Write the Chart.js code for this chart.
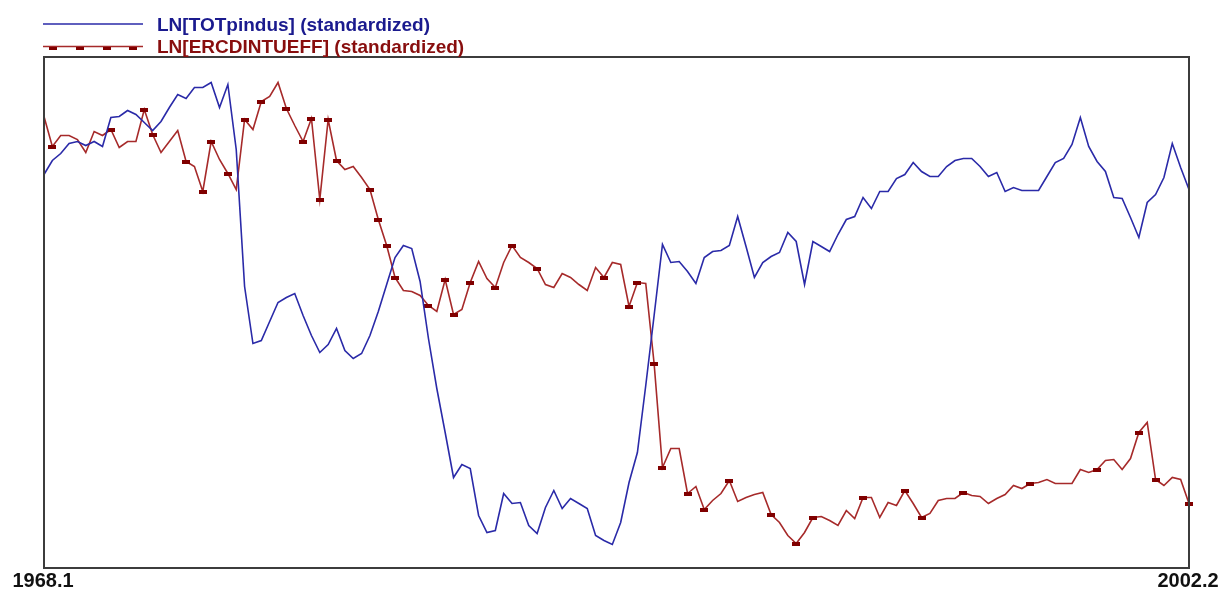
<!DOCTYPE html>
<html>
<head>
<meta charset="utf-8">
<script src="https://cdn.jsdelivr.net/npm/chart.js@4/dist/chart.umd.min.js"></script>
<style>
  html, body { margin: 0; padding: 0; background: #ffffff; }
  #wrap { width: 1225px; height: 591px; position: relative; }
</style>
</head>
<body>
<div id="wrap"><canvas id="c" width="1225" height="591"></canvas></div>
<script>
// Quarterly sample 1968.1 - 2002.2, both series standardized
const startYear = 1968;
const startQuarter = 1;

const seriesNames = ['LN[TOTpindus] (standardized)', 'LN[ERCDINTUEFF] (standardized)'];

const totPindus = [
  1.38, 1.52, 1.59, 1.69, 1.71, 1.67, 1.71, 1.66, 1.95, 1.96,
  2.02, 1.98, 1.90, 1.82, 1.91, 2.05, 2.18, 2.14, 2.25, 2.25,
  2.30, 2.05, 2.28, 1.63, 0.26, -0.31, -0.28, -0.09, 0.10, 0.15,
  0.19, -0.03, -0.23, -0.40, -0.32, -0.16, -0.38, -0.46, -0.41, -0.23,
  0.01, 0.28, 0.55, 0.67, 0.64, 0.31, -0.26, -0.76, -1.20, -1.65,
  -1.52, -1.56, -2.03, -2.20, -2.18, -1.81, -1.91, -1.90, -2.13, -2.21,
  -1.95, -1.78, -1.96, -1.86, -1.91, -1.96, -2.23, -2.28, -2.32, -2.10,
  -1.70, -1.40, -0.73, -0.03, 0.68, 0.50, 0.51, 0.41, 0.29, 0.55,
  0.61, 0.62, 0.67, 0.96, 0.66, 0.35, 0.50, 0.56, 0.60, 0.80,
  0.71, 0.28, 0.71, 0.66, 0.61, 0.78, 0.93, 0.96, 1.15, 1.04,
  1.21, 1.21, 1.34, 1.38, 1.50, 1.41, 1.36, 1.36, 1.46, 1.52,
  1.54, 1.54, 1.46, 1.36, 1.40, 1.21, 1.25, 1.22, 1.22, 1.22,
  1.36, 1.50, 1.54, 1.68, 1.95, 1.66, 1.51, 1.41, 1.15, 1.14,
  0.95, 0.75, 1.10, 1.18, 1.35, 1.69, 1.45, 1.23
];

const ercdIntuEff = [
  1.96, 1.66, 1.77, 1.77, 1.73, 1.60, 1.81, 1.77, 1.83, 1.65,
  1.71, 1.71, 2.03, 1.78, 1.60, 1.71, 1.82, 1.51, 1.46, 1.21,
  1.71, 1.53, 1.39, 1.23, 1.93, 1.83, 2.11, 2.16, 2.30, 2.04,
  1.87, 1.71, 1.94, 1.13, 1.93, 1.52, 1.43, 1.46, 1.35, 1.23,
  0.93, 0.67, 0.35, 0.22, 0.21, 0.17, 0.07, 0.01, 0.33, -0.02,
  0.03, 0.30, 0.51, 0.34, 0.25, 0.50, 0.67, 0.55, 0.50, 0.44,
  0.28, 0.25, 0.39, 0.35, 0.28, 0.22, 0.45, 0.35, 0.50, 0.48,
  0.06, 0.30, 0.29, -0.51, -1.55, -1.36, -1.36, -1.81, -1.74, -1.97,
  -1.88, -1.81, -1.68, -1.89, -1.85, -1.82, -1.80, -2.02, -2.10, -2.23,
  -2.31, -2.20, -2.05, -2.04, -2.08, -2.13, -1.98, -2.06, -1.85, -1.85,
  -2.05, -1.90, -1.93, -1.78, -1.91, -2.05, -2.01, -1.88, -1.86, -1.86,
  -1.80, -1.83, -1.84, -1.91, -1.86, -1.82, -1.73, -1.76, -1.71, -1.70,
  -1.67, -1.71, -1.71, -1.71, -1.57, -1.60, -1.57, -1.48, -1.47, -1.57,
  -1.46, -1.20, -1.10, -1.67, -1.73, -1.65, -1.67, -1.91
];

// observations that carry a symbol on the second series
const markedObs = [1, 8, 12, 13, 17, 19, 20, 22, 24, 26, 29, 31, 32, 33, 34, 35, 39, 40,
  41, 42, 46, 48, 49, 51, 54, 56, 59, 67, 70, 71, 73, 74, 77, 79, 82, 87, 90, 92, 98,
  103, 105, 110, 118, 126, 131, 133, 137];

// the axis shows only the first and last period
const tickLabels = ['1968.1', '2002.2'];

// period labels "yyyy.q"
const periods = totPindus.map((_, i) => {
  const q = startQuarter - 1 + i;
  return (startYear + Math.floor(q / 4)) + '.' + (q % 4 + 1);
});

const BLUE = '#2a2aa8';
const BLUE_TEXT = '#1a1a8e';
const RED = '#a62a2a';
const RED_MARK = '#800000';
const RED_TEXT = '#880e0e';
const FONT = 'bold 19px "Liberation Sans", Arial, sans-serif';
const TICK_FONT = 'bold 20px "Liberation Sans", Arial, sans-serif';

// small flat rectangle used as the point symbol
function makeMarker(w, h, color) {
  const c = document.createElement('canvas');
  c.width = w; c.height = h;
  const g = c.getContext('2d');
  g.fillStyle = color;
  g.fillRect(0, 0, w, h);
  return c;
}
const marker = makeMarker(8, 4, RED_MARK);
const markSet = new Set(markedObs);

const framePlugin = {
  id: 'frameAndLabels',
  afterDraw(chart) {
    const { ctx, chartArea: a } = chart;
    const xs = chart.scales.x;
    ctx.save();
    // plot frame
    ctx.strokeStyle = '#3c3c3c';
    ctx.lineWidth = 2;
    ctx.strokeRect(a.left, a.top, a.right - a.left, a.bottom - a.top);

    // first / last period labels
    ctx.fillStyle = '#111111';
    ctx.font = TICK_FONT;
    ctx.textAlign = 'center';
    ctx.textBaseline = 'alphabetic';
    tickLabels.forEach(lbl => {
      const idx = periods.indexOf(lbl);
      const x = xs.getPixelForValue(idx);
      ctx.fillText(lbl, x - 1, a.bottom + 19);
    });

    // key
    const x0 = a.left - 1, x1 = a.left + 99;
    ctx.textAlign = 'left';
    ctx.font = FONT;

    ctx.strokeStyle = BLUE;
    ctx.lineWidth = 1.6;
    ctx.beginPath();
    ctx.moveTo(x0, 24); ctx.lineTo(x1, 24);
    ctx.stroke();
    ctx.fillStyle = BLUE_TEXT;
    ctx.fillText(seriesNames[0], a.left + 113, 31);

    ctx.strokeStyle = RED;
    ctx.beginPath();
    ctx.moveTo(x0, 46.5); ctx.lineTo(x1, 46.5);
    ctx.stroke();
    ctx.fillStyle = RED_MARK;
    [9, 36, 63, 89].forEach(dx => ctx.fillRect(a.left + dx - 4, 47, 8, 3));
    ctx.fillStyle = RED_TEXT;
    ctx.fillText(seriesNames[1], a.left + 113, 53);
    ctx.restore();
  }
};

new Chart(document.getElementById('c'), {
  type: 'line',
  data: {
    labels: periods,
    datasets: [
      {
        label: seriesNames[0],
        data: totPindus,
        borderColor: BLUE,
        borderWidth: 1.6,
        pointRadius: 0,
        tension: 0,
        clip: 4
      },
      {
        label: seriesNames[1],
        data: ercdIntuEff,
        borderColor: RED,
        borderWidth: 1.6,
        pointStyle: marker,
        pointRadius: ctx => markSet.has(ctx.dataIndex) ? 4 : 0,
        tension: 0,
        clip: 6
      }
    ]
  },
  options: {
    responsive: false,
    animation: false,
    events: [],
    layout: { padding: { left: 44, right: 36, top: 57, bottom: 23 } },
    plugins: { legend: { display: false }, tooltip: { enabled: false } },
    scales: {
      x: { type: 'category', display: false, offset: false },
      y: { display: false, min: -2.555, max: 2.555 }
    }
  },
  plugins: [framePlugin]
});
</script>
</body>
</html>
